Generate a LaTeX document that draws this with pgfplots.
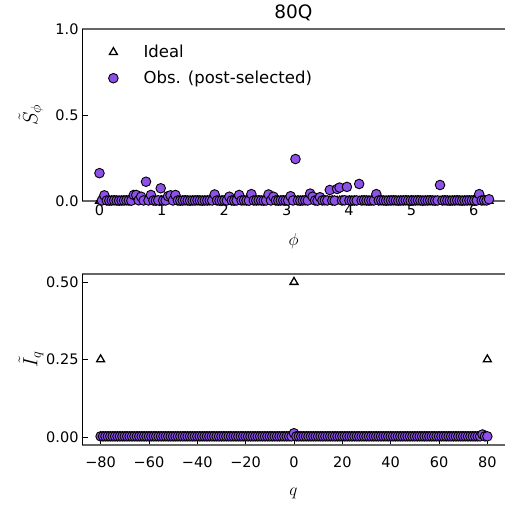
\documentclass[border=0pt]{standalone}
\usepackage{fontspec}
\setmainfont{DejaVu Sans}
\usepackage{pgfplots}
\pgfplotsset{compat=1.18}
\usepackage{pgfplotstable}
\definecolor{obs}{RGB}{142,80,232}

\pgfplotstableread{
phi ideal obs
0.0000 0 0.162
0.0393 0 0.003
0.0785 0 0.033
0.1178 0 0.003
0.1571 0 0.002
0.1963 0 0.003
0.2356 0 0.004
0.2749 0 0.003
0.3142 0 0.002
0.3534 0 0.003
0.3927 0 0.003
0.4320 0 0.004
0.4712 0 0.003
0.5105 0 0.002
0.5498 0 0.035
0.5890 0 0.035
0.6283 0 0.004
0.6676 0 0.025
0.7069 0 0.003
0.7461 0 0.112
0.7854 0 0.003
0.8247 0 0.035
0.8639 0 0.003
0.9032 0 0.002
0.9425 0 0.004
0.9817 0 0.074
1.0210 0 0.003
1.0603 0 0.003
1.0996 0 0.028
1.1388 0 0.033
1.1781 0 0.003
1.2174 0 0.035
1.2566 0 0.003
1.2959 0 0.002
1.3352 0 0.003
1.3744 0 0.004
1.4137 0 0.003
1.4530 0 0.002
1.4923 0 0.003
1.5315 0 0.003
1.5708 0 0.004
1.6101 0 0.003
1.6493 0 0.002
1.6886 0 0.003
1.7279 0 0.003
1.7671 0 0.004
1.8064 0 0.003
1.8457 0 0.038
1.8850 0 0.003
1.9242 0 0.002
1.9635 0 0.003
2.0028 0 0.004
2.0420 0 0.003
2.0813 0 0.025
2.1206 0 0.003
2.1598 0 0.002
2.1991 0 0.003
2.2384 0 0.035
2.2777 0 0.003
2.3169 0 0.004
2.3562 0 0.003
2.3955 0 0.002
2.4347 0 0.040
2.4740 0 0.003
2.5133 0 0.003
2.5525 0 0.004
2.5918 0 0.003
2.6311 0 0.002
2.6704 0 0.003
2.7096 0 0.038
2.7489 0 0.003
2.7882 0 0.025
2.8274 0 0.003
2.8667 0 0.002
2.9060 0 0.003
2.9452 0 0.004
2.9845 0 0.003
3.0238 0 0.003
3.0631 0 0.028
3.1023 0 0.003
3.1416 0 0.244
3.1809 0 0.003
3.2201 0 0.002
3.2594 0 0.003
3.2987 0 0.004
3.3379 0 0.003
3.3772 0 0.043
3.4165 0 0.025
3.4558 0 0.003
3.4950 0 0.002
3.5343 0 0.022
3.5736 0 0.003
3.6128 0 0.004
3.6521 0 0.003
3.6914 0 0.064
3.7306 0 0.003
3.7699 0 0.002
3.8092 0 0.070
3.8485 0 0.078
3.8877 0 0.003
3.9270 0 0.004
3.9663 0 0.082
4.0055 0 0.003
4.0448 0 0.002
4.0841 0 0.003
4.1233 0 0.003
4.1626 0 0.099
4.2019 0 0.003
4.2412 0 0.004
4.2804 0 0.003
4.3197 0 0.002
4.3590 0 0.003
4.3982 0 0.003
4.4375 0 0.040
4.4768 0 0.003
4.5160 0 0.004
4.5553 0 0.003
4.5946 0 0.002
4.6338 0 0.003
4.6731 0 0.003
4.7124 0 0.004
4.7517 0 0.003
4.7909 0 0.002
4.8302 0 0.003
4.8695 0 0.003
4.9087 0 0.004
4.9480 0 0.003
4.9873 0 0.002
5.0265 0 0.003
5.0658 0 0.003
5.1051 0 0.004
5.1444 0 0.003
5.1836 0 0.002
5.2229 0 0.003
5.2622 0 0.003
5.3014 0 0.004
5.3407 0 0.003
5.3800 0 0.002
5.4192 0 0.003
5.4585 0 0.093
5.4978 0 0.003
5.5371 0 0.004
5.5763 0 0.003
5.6156 0 0.002
5.6549 0 0.003
5.6941 0 0.003
5.7334 0 0.004
5.7727 0 0.003
5.8119 0 0.002
5.8512 0 0.003
5.8905 0 0.003
5.9298 0 0.004
5.9690 0 0.003
6.0083 0 0.002
6.0476 0 0.003
6.0868 0 0.040
6.1261 0 0.003
6.1654 0 0.004
6.2046 0 0.003
6.2439 0 0.010
}\topdata

\pgfplotstableread{
q ideal obs
-80 0.25 0.002
-79 0 0.002
-78 0 0.002
-77 0 0.002
-76 0 0.002
-75 0 0.002
-74 0 0.002
-73 0 0.002
-72 0 0.002
-71 0 0.002
-70 0 0.002
-69 0 0.002
-68 0 0.002
-67 0 0.002
-66 0 0.002
-65 0 0.002
-64 0 0.002
-63 0 0.002
-62 0 0.002
-61 0 0.002
-60 0 0.002
-59 0 0.002
-58 0 0.002
-57 0 0.002
-56 0 0.002
-55 0 0.002
-54 0 0.002
-53 0 0.002
-52 0 0.002
-51 0 0.002
-50 0 0.002
-49 0 0.002
-48 0 0.002
-47 0 0.002
-46 0 0.002
-45 0 0.002
-44 0 0.002
-43 0 0.002
-42 0 0.002
-41 0 0.002
-40 0 0.002
-39 0 0.002
-38 0 0.002
-37 0 0.002
-36 0 0.002
-35 0 0.002
-34 0 0.002
-33 0 0.002
-32 0 0.002
-31 0 0.002
-30 0 0.002
-29 0 0.002
-28 0 0.002
-27 0 0.002
-26 0 0.002
-25 0 0.002
-24 0 0.002
-23 0 0.002
-22 0 0.002
-21 0 0.002
-20 0 0.002
-19 0 0.002
-18 0 0.002
-17 0 0.002
-16 0 0.002
-15 0 0.002
-14 0 0.002
-13 0 0.002
-12 0 0.002
-11 0 0.002
-10 0 0.002
-9 0 0.002
-8 0 0.002
-7 0 0.002
-6 0 0.002
-5 0 0.002
-4 0 0.002
-3 0 0.002
-2 0 0.002
-1 0 0.002
0 0.5 0.012
1 0 0.002
2 0 0.002
3 0 0.002
4 0 0.002
5 0 0.002
6 0 0.002
7 0 0.002
8 0 0.002
9 0 0.002
10 0 0.002
11 0 0.002
12 0 0.002
13 0 0.002
14 0 0.002
15 0 0.002
16 0 0.002
17 0 0.002
18 0 0.002
19 0 0.002
20 0 0.002
21 0 0.002
22 0 0.002
23 0 0.002
24 0 0.002
25 0 0.002
26 0 0.002
27 0 0.002
28 0 0.002
29 0 0.002
30 0 0.002
31 0 0.002
32 0 0.002
33 0 0.002
34 0 0.002
35 0 0.002
36 0 0.002
37 0 0.002
38 0 0.002
39 0 0.002
40 0 0.002
41 0 0.002
42 0 0.002
43 0 0.002
44 0 0.002
45 0 0.002
46 0 0.002
47 0 0.002
48 0 0.002
49 0 0.002
50 0 0.002
51 0 0.002
52 0 0.002
53 0 0.002
54 0 0.002
55 0 0.002
56 0 0.002
57 0 0.002
58 0 0.002
59 0 0.002
60 0 0.002
61 0 0.002
62 0 0.002
63 0 0.002
64 0 0.002
65 0 0.002
66 0 0.002
67 0 0.002
68 0 0.002
69 0 0.002
70 0 0.002
71 0 0.002
72 0 0.002
73 0 0.002
74 0 0.002
75 0 0.002
76 0 0.002
77 0 0.002
78 0 0.008
79 0 0.002
80 0.25 0.002
}\botdata

\pgfplotsset{
  common/.style={
    scale only axis, width=423bp,
    axis x line*=box, axis y line*=left,
    x axis line style={draw=black!60, line width=1.1bp},
    y axis line style={draw=black, line width=0.9bp},
    tick align=inside, xtick pos=bottom, ytick pos=left,
    major tick length=6bp,
    every tick/.style={black, line width=0.8bp},
    tick label style={font=\fontsize{14.5bp}{17bp}\selectfont},
    /pgf/number format/assume math mode=true,
    xlabel style={font=\fontsize{18bp}{20bp}\selectfont},
    ylabel style={font=\fontsize{21bp}{23bp}\selectfont},
    clip=true,
  },
  idealstyle/.style={only marks, mark=triangle*, mark size=4.6bp,
    mark options={draw=black, fill=white, line width=1.3bp}},
  obsstyle/.style={only marks, mark=*, mark size=4.8bp,
    mark options={draw=black, fill=obs, line width=0.9bp}},
}

\begin{document}
\begin{tikzpicture}
\useasboundingbox (0bp,0bp) rectangle (505bp,-507bp);
\begin{axis}[common,
  at={(82bp,-29bp)}, anchor=north west, height=172bp,
  xmin=-0.28, xmax=6.50, ymin=0, ymax=1,
  xtick={0,1,2,3,4,5,6},
  ytick={0,0.5,1}, yticklabels={0.0,0.5,1.0},
  title={80Q},
  title style={at={(axis description cs:0.5,1)}, anchor=center, yshift=10bp, font=\fontsize{18.5bp}{20bp}\selectfont},
  xlabel={$\phi$},
  xlabel style={at={(axis description cs:0.5,-0.2326)}, anchor=center},
  ylabel={$\tilde{S}_{\phi}$},
  ylabel style={at={(axis description cs:-0.1206,0.5)}, anchor=center},
  legend style={draw=none, fill=none, at={(axis description cs:0,1)}, anchor=north west,
    xshift=16bp, yshift=-12bp, font=\fontsize{16.5bp}{19bp}\selectfont,
    row sep=8bp},
  legend cell align=left,
  legend image code/.code={\path (0bp,0bp) (40bp,0bp); \draw[#1] plot coordinates {(12bp,0bp)};},
]
\addplot[idealstyle] table[x=phi, y=ideal] {\topdata};
\addlegendentry{Ideal}
\addplot[obsstyle] table[x=phi, y=obs] {\topdata};
\addlegendentry{Obs. (post-selected)}
\end{axis}

\begin{axis}[common,
  at={(82bp,-274bp)}, anchor=north west, height=171bp,
  xmin=-87.7, xmax=87.3, ymin=-0.026, ymax=0.526,
  xtick={-80,-60,-40,-20,0,20,40,60,80},
  xticklabels={−80,−60,−40,−20,0,20,40,60,80},
  xticklabel style={yshift=-8bp},
  ytick={0,0.25,0.5}, yticklabels={0.00,0.25,0.50},
  xlabel={$q$},
  xlabel style={at={(axis description cs:0.5,-0.2807)}, anchor=center},
  ylabel={$\tilde{I}_{q}$},
  ylabel style={at={(axis description cs:-0.1206,0.5)}, anchor=center},
]
\addplot[idealstyle] table[x=q, y=ideal] {\botdata};
\addplot[obsstyle] table[x=q, y=obs] {\botdata};
\end{axis}
\end{tikzpicture}
\end{document}
